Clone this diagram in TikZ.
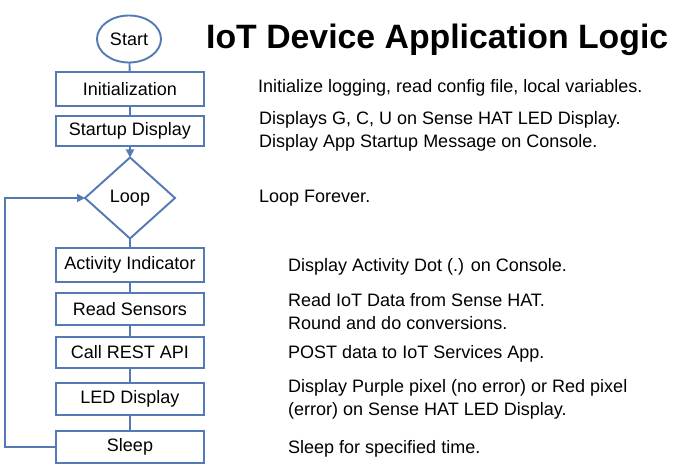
\documentclass[tikz,border=0pt]{standalone}
\usepackage{fontspec}
\setmainfont{Liberation Sans}
\usetikzlibrary{shapes.geometric,arrows.meta}
\definecolor{boxblue}{RGB}{84,121,180}
\tikzset{
  every node/.style={font=\fontsize{18}{23}\selectfont},
  stepbox/.style={draw=boxblue, line width=1.9pt, rectangle, minimum width=148pt, inner sep=0pt, outer sep=0pt, fill=white},
  startshape/.style={draw=boxblue, line width=1.9pt, ellipse, minimum width=64pt, minimum height=47pt, inner sep=0pt, outer sep=0pt, fill=white},
  loopshape/.style={draw=boxblue, line width=1.9pt, diamond, minimum width=90pt, minimum height=81pt, inner sep=0pt, outer sep=0pt, fill=white},
  link/.style={draw=boxblue, line width=1.9pt},
  arrowlink/.style={link, -{Triangle[length=8pt,width=8pt]}},
  desc/.style={anchor=west, align=left, inner sep=0pt},
  titletext/.style={anchor=west, inner sep=0pt, font=\fontsize{33.8}{40}\selectfont\bfseries}
}
\begin{document}
\begin{tikzpicture}[x=1pt,y=-1pt]
\useasboundingbox (0,0) rectangle (678,471);
% title
\node[titletext] (title) at (206,40) {IoT Device Application Logic};
% flow nodes
\node[startshape] (start) at (129,39) {Start};
\node[stepbox, minimum height=34pt] (init) at (130,89) {Initialization};
\node[stepbox, minimum height=30pt] (startup) at (130,131) {Startup Display};
\node[loopshape] (loop) at (130,198) {Loop};
\node[stepbox, minimum height=34pt] (activity) at (130,265) {Activity Indicator};
\node[stepbox, minimum height=32pt] (read) at (130,309) {Read Sensors};
\node[stepbox, minimum height=31pt] (rest) at (130,352.5) {Call REST API};
\node[stepbox, minimum height=32pt] (led) at (130,399) {LED Display};
\node[stepbox, minimum height=32pt] (sleep) at (130,447) {Sleep};
% connectors
\draw[link] (start) -- (init);
\draw[link] (init) -- (startup);
\draw[arrowlink] (startup) -- (loop);
\draw[link] (loop) -- (activity);
\draw[link] (activity) -- (read);
\draw[link] (read) -- (rest);
\draw[link] (rest) -- (led);
\draw[link] (led) -- (sleep);
\coordinate (back) at (5,447);
\draw[arrowlink] (sleep.west) -- (back) |- (loop.west);
% descriptions
\node[desc] (d1) at (258,87.5) {Initialize logging, read config file, local variables.};
\node[desc] (d2) at (259,131) {Displays G, C, U on Sense HAT LED Display.\\Display App Startup Message on Console.};
\node[desc] (d3) at (259,198.5) {Loop Forever.};
\node[desc] (d4) at (288,266.5) {Display Activity Dot (.) on Console.};
\node[desc] (d5) at (288,311.5) {Read IoT Data from Sense HAT.\\Round and do conversions.};
\node[desc] (d6) at (288,353.5) {POST data to IoT Services App.};
\node[desc] (d7) at (288,399) {Display Purple pixel (no error) or Red pixel\\(error) on Sense HAT LED Display.};
\node[desc] (d8) at (288,448.5) {Sleep for specified time.};
\end{tikzpicture}
\end{document}
